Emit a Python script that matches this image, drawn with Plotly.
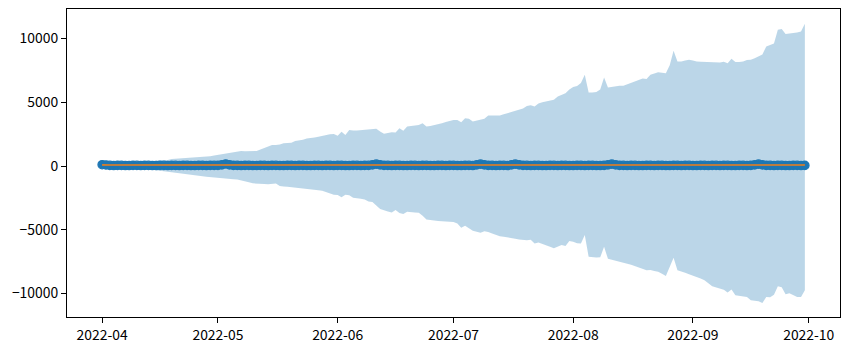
import datetime as dt
import plotly.graph_objects as go

start = dt.date(2022, 4, 1)
dates = [start + dt.timedelta(days=i) for i in range(183)]

actual = [
    100, 80, 50, 40, 45, 50, 40, 35, 45, 50, 40, 45, 50, 40, 35, 45, 50, 40, 45, 50,
    40, 45, 50, 40, 35, 45, 50, 40, 45, 50, 45, 90, 160, 90, 45, 50, 40, 45, 50, 40,
    35, 45, 50, 40, 45, 50, 40, 35, 45, 50, 40, 45, 50, 40, 35, 45, 50, 40, 45, 50,
    40, 45, 50, 40, 35, 45, 50, 40, 45, 50, 90, 150, 90, 45, 50, 40, 45, 50, 40, 35,
    45, 50, 40, 45, 50, 40, 35, 45, 50, 40, 45, 50, 40, 35, 45, 50, 40, 90, 150, 90,
    45, 50, 40, 45, 50, 40, 90, 150, 90, 45, 50, 40, 45, 50, 40, 35, 45, 50, 40, 45,
    50, 40, 35, 45, 50, 40, 45, 50, 40, 35, 45, 90, 150, 90, 45, 50, 40, 45, 50, 40,
    35, 45, 50, 40, 45, 50, 40, 35, 45, 50, 40, 45, 50, 40, 35, 45, 50, 40, 45, 50,
    40, 45, 50, 40, 35, 45, 50, 40, 45, 90, 150, 90, 45, 50, 40, 45, 50, 40, 35, 45,
    50, 40, 45,
]

predicted = [
    75, 76, 77, 78, 78, 79, 80, 80, 80, 81, 81, 81, 80, 80, 80, 79, 79, 79, 78, 78,
    78, 78, 79, 79, 80, 80, 81, 81, 82, 82, 82, 83, 83, 83, 82, 82, 81, 81, 80, 80,
    79, 79, 78, 78, 78, 78, 79, 79, 80, 80, 81, 81, 82, 82, 82, 82, 81, 81, 80, 80,
    79, 79, 78, 78, 78, 79, 79, 80, 80, 81, 82, 83, 84, 84, 83, 82, 81, 80, 79, 78,
    77, 76, 76, 76, 77, 78, 79, 80, 81, 82, 83, 84, 84, 84, 83, 82, 81, 80, 80, 81,
    82, 83, 84, 85, 85, 84, 83, 82, 81, 80, 79, 78, 77, 76, 75, 74, 74, 74, 75, 76,
    77, 78, 79, 80, 81, 82, 82, 81, 80, 79, 78, 77, 76, 75, 75, 75, 76, 77, 78, 79,
    80, 81, 82, 82, 81, 80, 79, 78, 77, 76, 75, 75, 76, 77, 78, 79, 80, 81, 82, 82,
    81, 80, 79, 78, 77, 76, 76, 77, 78, 79, 80, 81, 82, 82, 81, 80, 79, 78, 77, 76,
    76, 77, 78,
]

upper = [
    120, 140, 150, 170, 180, 200, 220, 230, 250, 270,
    290, 310, 330, 350, 380, 410, 440, 480, 540, 560,
    580, 600, 620, 650, 670, 690, 710, 730, 770, 820,
    870, 910, 960, 1030, 1100, 1170, 1180, 1160, 1150, 1130,
    1170, 1300, 1420, 1480, 1650, 1640, 1680, 1780, 1830, 1830,
    1960, 2000, 2050, 2150, 2170, 2230, 2300, 2380, 2440, 2490,
    2500, 2380, 2680, 2440, 2830, 2780, 2790, 2810, 2830, 2850,
    2900, 2930, 2700, 2520, 2580, 2640, 2620, 2960, 2770, 3090,
    3130, 3180, 3220, 3350, 3090, 3130, 3190, 3250, 3350, 3450,
    3560, 3610, 3600, 3430, 3740, 3700, 3480, 3560, 3650, 3700,
    3950, 3940, 3940, 3960, 4050, 4140, 4230, 4300, 4400, 4500,
    4700, 4770, 4660, 4900, 5000, 5050, 5100, 5200, 5450, 5600,
    5710, 6000, 6200, 6280, 6500, 7150, 5760, 5770, 5800, 6000,
    6940, 6150, 6200, 6280, 6290, 6300, 6420, 6520, 6650, 6750,
    6860, 6830, 7150, 7250, 7360, 7320, 7280, 7900, 9030, 8190,
    8200, 8270, 8330, 8280, 8190, 8180, 8170, 8140, 8110, 8100,
    8120, 8180, 8060, 8400, 8150, 8160, 8200, 8320, 8340, 8450,
    8600, 8750, 9370, 9500, 9600, 10680, 10740, 10350, 10380, 10420,
    10460, 10550, 11150,
]

lower = [
    -60, -80, -100, -110, -130, -150, -170, -180, -200, -220,
    -240, -260, -280, -300, -330, -350, -380, -420, -480, -530,
    -570, -600, -640, -680, -720, -760, -800, -840, -870, -900,
    -930, -970, -990, -1010, -1030, -1060, -1120, -1200, -1280, -1360,
    -1380, -1400, -1420, -1440, -1430, -1370, -1560, -1600, -1630, -1660,
    -1680, -1710, -1750, -1790, -1830, -1860, -1900, -1940, -2030, -2150,
    -2260, -2280, -2450, -2250, -2300, -2490, -2520, -2560, -2620, -2780,
    -2820, -3100, -3380, -3500, -3560, -3640, -3460, -3680, -3770, -3590,
    -3640, -3650, -3670, -3900, -4190, -4230, -4280, -4320, -4340, -4370,
    -4390, -4400, -4500, -4840, -4690, -4880, -5080, -5150, -5240, -5110,
    -5180, -5300, -5420, -5500, -5550, -5600, -5630, -5700, -5760, -5810,
    -5830, -5780, -6070, -5990, -6150, -6230, -6330, -6440, -6350, -6200,
    -6270, -5890, -5930, -6050, -6070, -5420, -7120, -7140, -7170, -7160,
    -6340, -7280, -7360, -7440, -7520, -7580, -7660, -7740, -7850, -7960,
    -8050, -8170, -8150, -8230, -8300, -8450, -8620, -7900, -7200, -8170,
    -8260, -8380, -8480, -8590, -8700, -8830, -8960, -9200, -9430, -9520,
    -9610, -9700, -9920, -9690, -10130, -10180, -10230, -10270, -10530, -10560,
    -10600, -10740, -10270, -10300, -10100, -9430, -9500, -10050, -9980, -10100,
    -10270, -10270, -9740,
]

y_ticks = [-10000, -5000, 0, 5000, 10000]
y_tick_labels = ["\u221210000", "\u22125000", "0", "5000", "10000"]

BLUE = "#1f77b4"
ORANGE = "#ff7f0e"
FONT = "Noto Sans CJK JP, DejaVu Sans, sans-serif"

fig = go.Figure()
fig.add_trace(go.Scatter(
    x=dates, y=actual, mode="markers",
    marker=dict(color=BLUE, size=8.3, line=dict(color=BLUE, width=1.3)),
    showlegend=False,
))
fig.add_trace(go.Scatter(
    x=dates, y=predicted, mode="lines",
    line=dict(color=ORANGE, width=2.1),
    showlegend=False,
))
fig.add_trace(go.Scatter(
    x=dates + dates[::-1], y=upper + lower[::-1],
    mode="lines", fill="toself",
    fillcolor="rgba(31,119,180,0.3)",
    line=dict(width=0, color="rgba(0,0,0,0)"),
    hoverinfo="skip", showlegend=False,
))

span = (dates[-1] - dates[0]).days
x0 = dt.datetime(2022, 4, 1) - dt.timedelta(days=0.05 * span)
x1 = dt.datetime(2022, 4, 1) + dt.timedelta(days=span * 1.05)

fig.update_layout(
    width=850, height=351,
    margin=dict(l=67, r=10, t=9, b=34),
    paper_bgcolor="white", plot_bgcolor="white",
    font=dict(family=FONT, size=13.9, color="black"),
    showlegend=False,
)
fig.update_xaxes(
    range=[x0, x1], type="date",
    tick0="2022-04-01", dtick="M1", tickformat="%Y-%m",
    showgrid=False, zeroline=False,
    showline=True, linecolor="black", linewidth=1.1, mirror=True,
    ticks="outside", ticklen=5, tickwidth=1.1, tickcolor="black",
    automargin=False,
)
fig.update_yaxes(
    range=[-11840, 12310],
    tickvals=y_ticks, ticktext=y_tick_labels,
    showgrid=False, zeroline=False,
    showline=True, linecolor="black", linewidth=1.1, mirror=True,
    ticks="outside", ticklen=5, tickwidth=1.1, tickcolor="black",
    automargin=False,
)

fig.write_html(
    "out.html",
    config={"displayModeBar": False},
    post_script="document.body.style.margin='0';document.body.style.padding='0';",
)
